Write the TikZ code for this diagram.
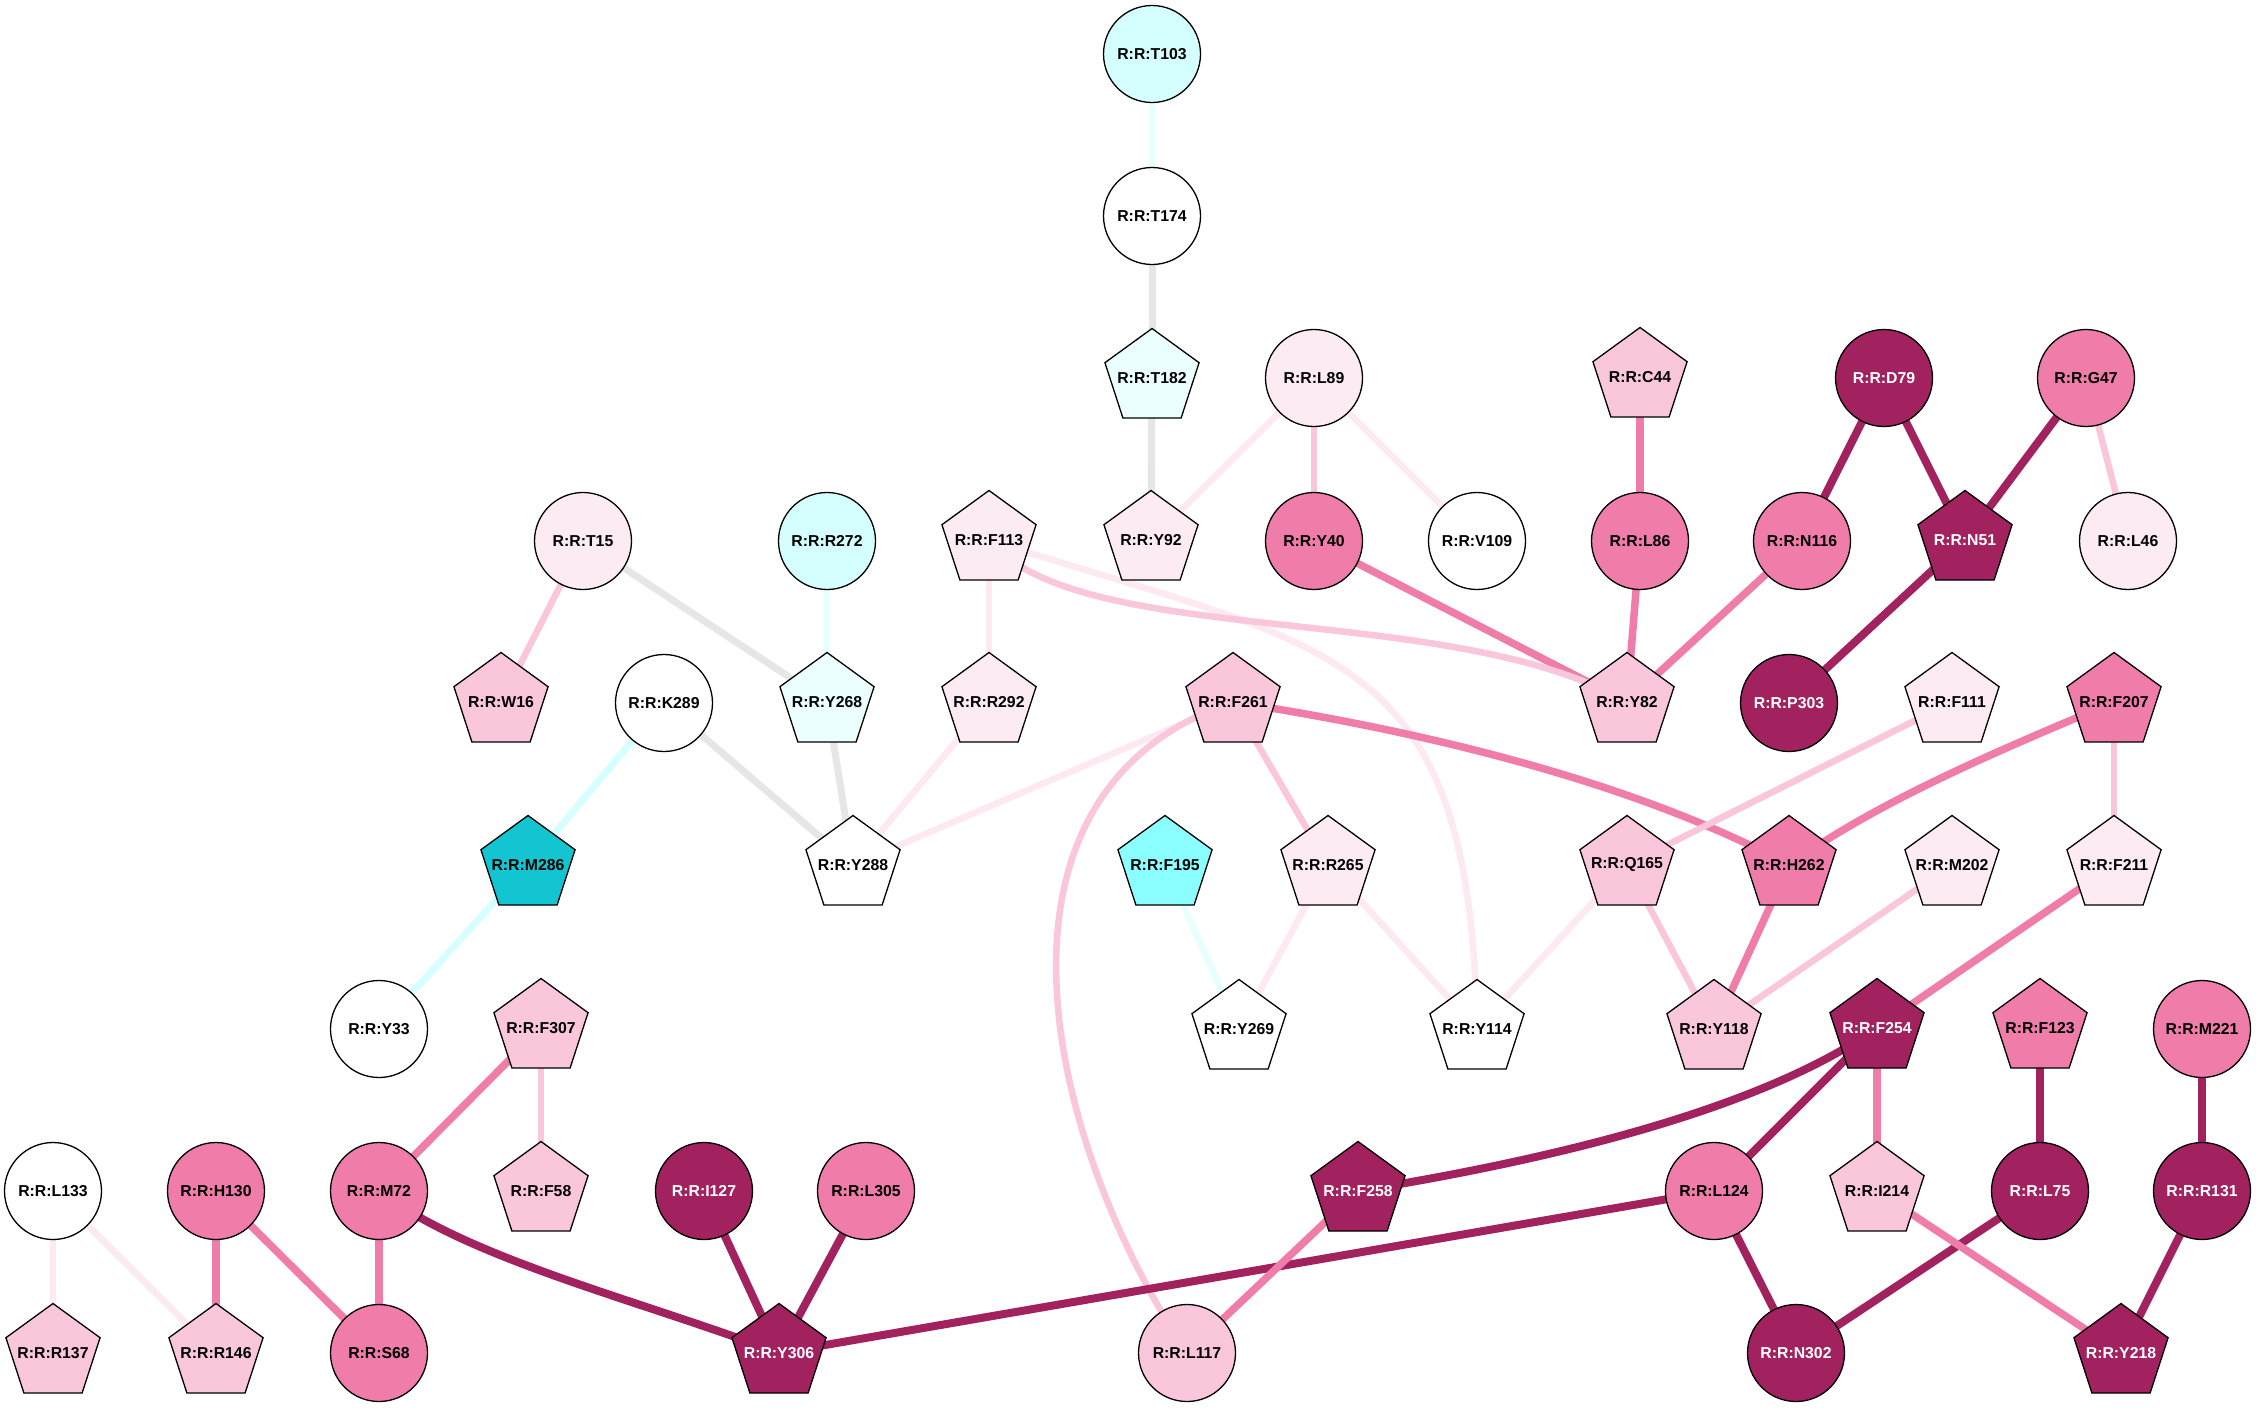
\documentclass[tikz,border=0pt]{standalone}
\usepackage{fontspec}
\setmainfont{Liberation Sans}
\usetikzlibrary{shapes.geometric,backgrounds}

\definecolor{cLcyan}{HTML}{D5FFFF}
\definecolor{cVcyan}{HTML}{EBFFFF}
\definecolor{cCyan}{HTML}{8BFFFF}
\definecolor{cTeal}{HTML}{12C5D0}
\definecolor{cLpink}{HTML}{FCEBF2}
\definecolor{cPink}{HTML}{F9C6DB}
\definecolor{cMpink}{HTML}{F07CAA}
\definecolor{cDark}{HTML}{A2225F}
\definecolor{cGrey}{HTML}{E6E6E6}
\definecolor{cEcyan}{HTML}{D8FFFF}
\definecolor{cEcyanb}{HTML}{E6FFFF}
\definecolor{cElpink}{HTML}{FCE9F1}

\tikzset{
  res/.style={draw=black, line width=1.3pt, inner sep=0pt,
    font=\bfseries\fontsize{15.8}{19}\selectfont,
    execute at begin node={\hbox to 0pt\bgroup\hss},
    execute at end node={\hss\egroup}},
  circ/.style={res, circle, minimum size=97pt},
  pent/.style={res, regular polygon, regular polygon sides=5, minimum size=99pt},
  nW/.style={fill=white}, nLp/.style={fill=cLpink}, nP/.style={fill=cPink},
  nM/.style={fill=cMpink}, nD/.style={fill=cDark, text=white},
  nLc/.style={fill=cLcyan}, nVc/.style={fill=cVcyan},
  nC/.style={fill=cCyan}, nT/.style={fill=cTeal},
  eG/.style={draw=cGrey, line width=7pt},
  eC/.style={draw=cEcyan, line width=7pt},
  eCb/.style={draw=cEcyanb, line width=6.5pt},
  eL/.style={draw=cElpink, line width=6.5pt},
  eP/.style={draw=cPink, line width=6.5pt},
  eM/.style={draw=cMpink, line width=7.5pt},
  eD/.style={draw=cDark, line width=8pt}
}

\begin{document}
\begin{tikzpicture}[x=1pt, y=-1pt]
    \useasboundingbox (0,0) rectangle (2256,1408);
    % residues
    \node[circ,nLc] (T103) at (1152,54) {R:R:T103};
    \node[circ,nW] (T174) at (1152,216) {R:R:T174};
    \node[pent,nVc] (T182) at (1152,378) {R:R:T182};
    \node[circ,nLp] (L89) at (1314,378) {R:R:L89};
    \node[pent,nP] (C44) at (1640,377) {R:R:C44};
    \node[circ,nD] (D79) at (1884,378) {R:R:D79};
    \node[circ,nM] (G47) at (2086,378) {R:R:G47};
    \node[circ,nLp] (T15) at (583,541) {R:R:T15};
    \node[circ,nLc] (R272) at (827,541) {R:R:R272};
    \node[pent,nLp] (F113) at (989,540) {R:R:F113};
    \node[pent,nLp] (Y92) at (1151,540) {R:R:Y92};
    \node[circ,nM] (Y40) at (1314,541) {R:R:Y40};
    \node[circ,nW] (V109) at (1477,541) {R:R:V109};
    \node[circ,nM] (L86) at (1640,541) {R:R:L86};
    \node[circ,nM] (N116) at (1802,541) {R:R:N116};
    \node[pent,nD] (N51) at (1965,540) {R:R:N51};
    \node[circ,nLp] (L46) at (2128,541) {R:R:L46};
    \node[pent,nP] (W16) at (501,702) {R:R:W16};
    \node[circ,nW] (K289) at (664,703) {R:R:K289};
    \node[pent,nVc] (Y268) at (827,702) {R:R:Y268};
    \node[pent,nLp] (R292) at (989,702) {R:R:R292};
    \node[pent,nP] (F261) at (1233,702) {R:R:F261};
    \node[pent,nP] (Y82) at (1627,702) {R:R:Y82};
    \node[circ,nD] (P303) at (1789,703) {R:R:P303};
    \node[pent,nLp] (F111) at (1952,702) {R:R:F111};
    \node[pent,nM] (F207) at (2114,702) {R:R:F207};
    \node[pent,nT] (M286) at (528,865) {R:R:M286};
    \node[pent,nW] (Y288) at (853,865) {R:R:Y288};
    \node[pent,nC] (F195) at (1165,865) {R:R:F195};
    \node[pent,nLp] (R265) at (1328,865) {R:R:R265};
    \node[pent,nP] (Q165) at (1627,865) {R:R:Q165};
    \node[pent,nM] (H262) at (1789,865) {R:R:H262};
    \node[pent,nLp] (M202) at (1952,865) {R:R:M202};
    \node[pent,nLp] (F211) at (2114,865) {R:R:F211};
    \node[circ,nW] (Y33) at (379,1029) {R:R:Y33};
    \node[pent,nP] (F307) at (541,1028) {R:R:F307};
    \node[pent,nW] (Y269) at (1239,1029) {R:R:Y269};
    \node[pent,nW] (Y114) at (1477,1029) {R:R:Y114};
    \node[pent,nP] (Y118) at (1714,1029) {R:R:Y118};
    \node[pent,nD] (F254) at (1877,1028) {R:R:F254};
    \node[pent,nM] (F123) at (2040,1028) {R:R:F123};
    \node[circ,nM] (M221) at (2202,1029) {R:R:M221};
    \node[circ,nW] (L133) at (53,1191) {R:R:L133};
    \node[circ,nM] (H130) at (216,1191) {R:R:H130};
    \node[circ,nM] (M72) at (379,1191) {R:R:M72};
    \node[pent,nP] (F58) at (541,1191) {R:R:F58};
    \node[circ,nD] (I127) at (704,1191) {R:R:I127};
    \node[circ,nM] (L305) at (866,1191) {R:R:L305};
    \node[pent,nD] (F258) at (1358,1191) {R:R:F258};
    \node[circ,nM] (L124) at (1714,1191) {R:R:L124};
    \node[pent,nP] (I214) at (1877,1191) {R:R:I214};
    \node[circ,nD] (L75) at (2040,1191) {R:R:L75};
    \node[circ,nD] (R131) at (2202,1191) {R:R:R131};
    \node[pent,nP] (R137) at (53,1353) {R:R:R137};
    \node[pent,nP] (R146) at (216,1353) {R:R:R146};
    \node[circ,nM] (S68) at (379,1353) {R:R:S68};
    \node[pent,nD] (Y306) at (779,1353) {R:R:Y306};
    \node[circ,nP] (L117) at (1187,1353) {R:R:L117};
    \node[circ,nD] (N302) at (1796,1353) {R:R:N302};
    \node[pent,nD] (Y218) at (2121,1353) {R:R:Y218};

    % contacts
    \begin{scope}[on background layer]
    \fill[white] (0,0) rectangle (2256,1408);
    \draw[eCb] (T103.center) -- (T174.center);
    \draw[eG] (T174.center) -- (T182.center);
    \draw[eG] (T182.center) -- (Y92.center);
    \draw[eL] (L89.center) -- (Y92.center);
    \draw[eP] (L89.center) -- (Y40.center);
    \draw[eL] (L89.center) -- (V109.center);
    \draw[eM] (C44.center) -- (L86.center);
    \draw[eD] (D79.center) -- (N116.center);
    \draw[eD] (D79.center) -- (N51.center);
    \draw[eD] (G47.center) -- (N51.center);
    \draw[eP] (G47.center) -- (L46.center);
    \draw[eM] (Y40.center) -- (Y82.center);
    \draw[eM] (L86.center) -- (Y82.center);
    \draw[eM] (N116.center) -- (Y82.center);
    \draw[eD] (N51.center) -- (P303.center);
    \draw[eL] (F113.center) .. controls (1330,650) and (1470,640) .. (Y114.center);
    \draw[eP] (F113.center) .. controls (1080,650) and (1450,600) .. (Y82.center);
    \draw[eL] (F113.center) -- (R292.center);
    \draw[eP] (T15.center) -- (W16.center);
    \draw[eG] (T15.center) -- (Y268.center);
    \draw[eCb] (R272.center) -- (Y268.center);
    \draw[eC] (K289.center) -- (M286.center);
    \draw[eG] (K289.center) -- (Y288.center);
    \draw[eG] (Y268.center) -- (Y288.center);
    \draw[eL] (R292.center) -- (Y288.center);
    \draw[eL] (F261.center) -- (Y288.center);
    \draw[eP] (F261.center) -- (R265.center);
    \draw[eM] (F261.center) .. controls (1450,735) and (1650,790) .. (H262.center);
    \draw[eP] (F261.center) .. controls (970,790) and (1040,1130) .. (L117.center);
    \draw[eP] (F111.center) -- (Q165.center);
    \draw[eM] (F207.center) .. controls (2000,750) and (1880,800) .. (H262.center);
    \draw[eP] (F207.center) -- (F211.center);
    \draw[eC] (M286.center) -- (Y33.center);
    \draw[eCb] (F195.center) -- (Y269.center);
    \draw[eL] (R265.center) -- (Y269.center);
    \draw[eL] (R265.center) -- (Y114.center);
    \draw[eL] (Q165.center) -- (Y114.center);
    \draw[eP] (Q165.center) -- (Y118.center);
    \draw[eM] (H262.center) -- (Y118.center);
    \draw[eP] (M202.center) -- (Y118.center);
    \draw[eM] (F211.center) -- (F254.center);
    \draw[eM] (F307.center) -- (M72.center);
    \draw[eP] (F307.center) -- (F58.center);
    \draw[eD] (F254.center) .. controls (1760,1110) and (1550,1160) .. (F258.center);
    \draw[eD] (F254.center) -- (L124.center);
    \draw[eM] (F254.center) -- (I214.center);
    \draw[eD] (F123.center) -- (L75.center);
    \draw[eD] (M221.center) -- (R131.center);
    \draw[eL] (L133.center) -- (R137.center);
    \draw[eL] (L133.center) -- (R146.center);
    \draw[eM] (H130.center) -- (R146.center);
    \draw[eM] (H130.center) -- (S68.center);
    \draw[eM] (M72.center) -- (S68.center);
    \draw[eD] (M72.center) .. controls (470,1260) and (640,1300) .. (Y306.center);
    \draw[eD] (I127.center) -- (Y306.center);
    \draw[eD] (L305.center) -- (Y306.center);
    \draw[eD] (L124.center) -- (Y306.center);
    \draw[eM] (F258.center) -- (L117.center);
    \draw[eD] (L124.center) -- (N302.center);
    \draw[eD] (L75.center) -- (N302.center);
    \draw[eM] (I214.center) -- (Y218.center);
    \draw[eD] (R131.center) -- (Y218.center);
    \end{scope}
\end{tikzpicture}
\end{document}
